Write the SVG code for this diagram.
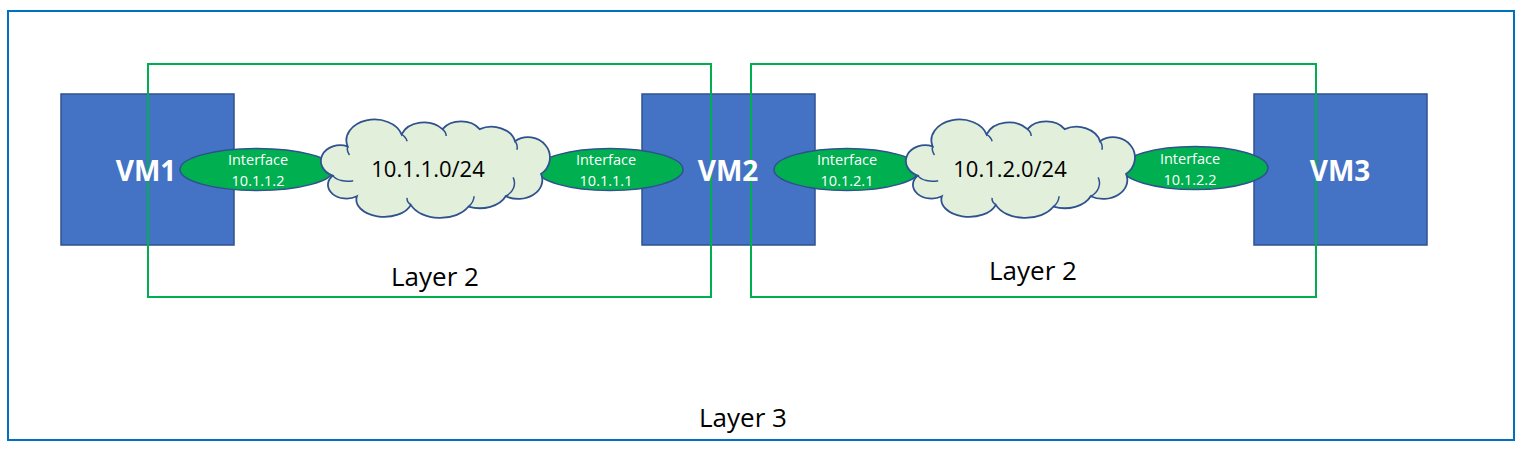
<svg xmlns="http://www.w3.org/2000/svg" width="1522" height="457" viewBox="0 0 1522 457">
<defs>
<style>
.vm{fill:#4472C4;stroke:#2F528F;stroke-width:1.5}
.vmt{font-family:"Open Sans","Noto Sans","Liberation Sans",sans-serif;font-weight:bold;font-size:28px;fill:#fff;text-anchor:middle}
.l2{fill:none;stroke:#00B050;stroke-width:2}
.l3{fill:none;stroke:#0070C0;stroke-width:2}
.ifc{fill:#00B050;stroke:#2F528F;stroke-width:1.5}
.ift{font-family:"Open Sans","Noto Sans","Liberation Sans",sans-serif;font-size:14.5px;fill:#fff;text-anchor:middle}
.cloud{fill:#E2EFDA;stroke:#2F528F;stroke-width:1.8;vector-effect:non-scaling-stroke}
.inner{fill:none;stroke:#2F528F;stroke-width:1.5;vector-effect:non-scaling-stroke}
.ct{font-family:"Open Sans","Noto Sans","Liberation Sans",sans-serif;font-size:22px;fill:#000;text-anchor:middle}
.lt{font-family:"Open Sans","Noto Sans","Liberation Sans",sans-serif;font-size:26px;fill:#000;text-anchor:middle}
</style>
<g id="cloudShape">
<path class="cloud" d="M4,60 A18 16 0 0 1 20,26 A30 24 0 0 1 78,12 A26 22 0 0 1 122,6 A24 20 0 0 1 162,6 A26 22 0 0 1 200,20 A22 22 0 0 1 228,58 A26 22 0 0 1 190,84 A30 22 0 0 1 150,96 A34 24 0 0 1 88,94 A30 20 0 0 1 30,84 A20 16 0 0 1 4,60 Z"/>
<path class="inner" d="M4,60 A18 12 0 0 0 26,66"/>
<path class="inner" d="M20,26 A20 16 0 0 0 22,36"/>
<path class="inner" d="M78,12 A18 14 0 0 1 84,20"/>
<path class="inner" d="M122,6 A16 12 0 0 1 126,14"/>
<path class="inner" d="M200,20 A12 12 0 0 1 202,30"/>
<path class="inner" d="M190,84 A20 18 0 0 0 198,62"/>
<path class="inner" d="M150,96 A20 18 0 0 0 156,84"/>
<path class="inner" d="M88,94 A14 10 0 0 1 84,86"/>
</g>
</defs>
<rect width="1522" height="457" fill="#fff"/>
<g id="layer3">
<rect class="l3" x="8" y="11" width="1506" height="429"/>
<text class="lt" x="743" y="427">Layer 3</text>
</g>
<g id="vm1">
<rect class="vm" x="61" y="94" width="173" height="151"/>
</g>
<g id="vm2">
<rect class="vm" x="642" y="94" width="173" height="151"/>
</g>
<g id="vm3">
<rect class="vm" x="1254" y="94" width="173" height="151"/>
</g>
<g id="layer2a">
<rect class="l2" x="148" y="64" width="563" height="233"/>
<text class="lt" x="435" y="286">Layer 2</text>
</g>
<g id="layer2b">
<rect class="l2" x="751" y="64" width="565" height="233"/>
<text class="lt" x="1033" y="280">Layer 2</text>
</g>
<g id="vmlabels">
<text class="vmt" x="146" y="181">VM1</text>
<text class="vmt" x="728" y="181">VM2</text>
<text class="vmt" x="1340" y="181">VM3</text>
</g>
<g id="if1">
<ellipse class="ifc" cx="257" cy="169.5" rx="77" ry="21"/>
<text class="ift" x="258" y="165">Interface</text>
<text class="ift" x="258" y="186">10.1.1.2</text>
</g>
<g id="if2">
<ellipse class="ifc" cx="610" cy="169.5" rx="73" ry="21"/>
<text class="ift" x="606" y="165">Interface</text>
<text class="ift" x="606" y="186">10.1.1.1</text>
</g>
<g id="if3">
<ellipse class="ifc" cx="847" cy="169.5" rx="73" ry="21"/>
<text class="ift" x="847" y="165">Interface</text>
<text class="ift" x="847" y="186">10.1.2.1</text>
</g>
<g id="if4">
<ellipse class="ifc" cx="1195" cy="168" rx="73" ry="21.5"/>
<text class="ift" x="1190" y="164">Interface</text>
<text class="ift" x="1190" y="185">10.1.2.2</text>
</g>
<g id="net1">
<use href="#cloudShape" transform="translate(329,124) scale(0.93,0.86)"/>
<text class="ct" x="428" y="177">10.1.1.0/24</text>
</g>
<g id="net2">
<use href="#cloudShape" transform="translate(914,124) scale(0.93,0.86)"/>
<text class="ct" x="1010" y="177">10.1.2.0/24</text>
</g>
<g id="connectors"/>
</svg>
